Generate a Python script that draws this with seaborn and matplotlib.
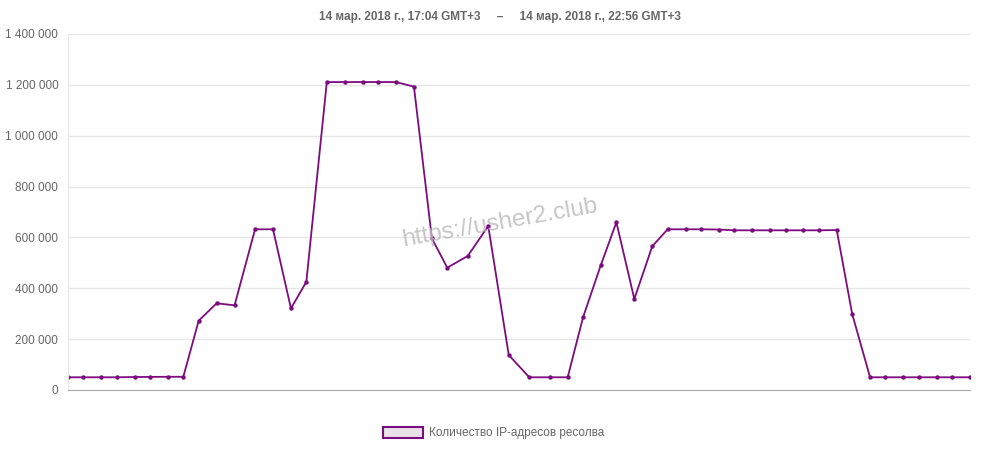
import pandas as pd
import matplotlib
matplotlib.use("Agg")
import matplotlib.pyplot as plt
from matplotlib.ticker import FuncFormatter
from matplotlib.patches import Patch
import seaborn as sns

# Time stamps (14 March 2018) and resolver IP counts
times = ["17:04", "17:10", "17:17", "17:23", "17:30", "17:36", "17:43", "17:49",
         "17:55", "18:02", "18:09", "18:17", "18:24", "18:31", "18:37", "18:45",
         "18:52", "18:59", "19:05", "19:12", "19:19", "19:26", "19:32", "19:40",
         "19:48", "19:56", "20:04", "20:12", "20:19", "20:25", "20:32", "20:38",
         "20:45", "20:52", "20:58", "21:05", "21:11", "21:18", "21:24", "21:31",
         "21:38", "21:44", "21:51", "21:57", "22:04", "22:10", "22:17", "22:23",
         "22:30", "22:36", "22:43", "22:49", "22:56"]
ip_counts = [50000, 50000, 50000, 50000, 51000, 51500, 52000, 52000,
             272500, 341000, 333000, 632000, 632000, 321000, 425000, 1211000,
             1211000, 1211000, 1211000, 1211000, 1193000, 596500, 481000, 527000,
             645000, 137500, 50000, 50000, 50000, 286000, 493000, 659500,
             358000, 565000, 632000, 632000, 632000, 631000, 628000, 628000,
             628000, 628000, 628000, 628000, 629000, 300000, 50000, 50000,
             50000, 50000, 50000, 50000, 50000]

series_label = "Количество IP-адресов ресолва"
title_text = "14 мар. 2018 г., 17:04 GMT+3     –     14 мар. 2018 г., 22:56 GMT+3"

df = pd.DataFrame({
    "time": pd.to_datetime(["2018-03-14 " + t for t in times]),
    "count": ip_counts,
})

sns.set_style("white")
plt.rcParams["font.family"] = ["Liberation Sans", "DejaVu Sans"]

line_color = "#7d0b80"
text_gray = "#666666"
grid_gray = "#e6e6e6"

fig = plt.figure(figsize=(9.99, 4.5), dpi=100)
ax = fig.add_axes([68 / 999, 1 - 390 / 450, (970 - 68) / 999, (390 - 34) / 450])

sns.lineplot(data=df, x="time", y="count", ax=ax, color=line_color, linewidth=1.3,
             marker="o", markersize=3.2, markeredgewidth=0, legend=False)

ax.set_ylim(0, 1400000)
ax.set_xlim(df["time"].iloc[0], df["time"].iloc[-1])
ax.set_yticks(range(0, 1400001, 200000))
ax.yaxis.set_major_formatter(FuncFormatter(lambda v, p: f"{int(v):,}".replace(",", " ")))
ax.set_xticks([])
ax.set_xlabel("")
ax.set_ylabel("")

ax.grid(axis="y", color=grid_gray, linewidth=1)
ax.set_axisbelow(True)
ax.tick_params(axis="y", length=5, color=grid_gray, labelcolor=text_gray, labelsize=8.5, pad=2)
ax.spines["top"].set_visible(False)
ax.spines["right"].set_visible(False)
ax.spines["left"].set_color(grid_gray)
ax.spines["bottom"].set_color("#aaaaaa")

fig.text(0.5, 1 - 17 / 450, title_text, ha="center", va="center",
         fontsize=8.5, fontweight="bold", color=text_gray)

# watermark, drawn over the line
ax.text((500 - 68) / 902, (390 - 223) / 356, "https://usher2.club", transform=ax.transAxes,
        ha="center", va="center", fontsize=17.5, color="#bdbdbd", alpha=0.85,
        rotation=10, zorder=5)

handle = Patch(facecolor="#e8e2e8", edgecolor=line_color, linewidth=1.5, label=series_label)
fig.legend(handles=[handle], loc="center", bbox_to_anchor=(0.494, 1 - 433 / 450), frameon=False,
           fontsize=8.5, labelcolor=text_gray, handlelength=3.4, handleheight=1.1, handletextpad=0.5)

fig.savefig("out.png", dpi=100)
